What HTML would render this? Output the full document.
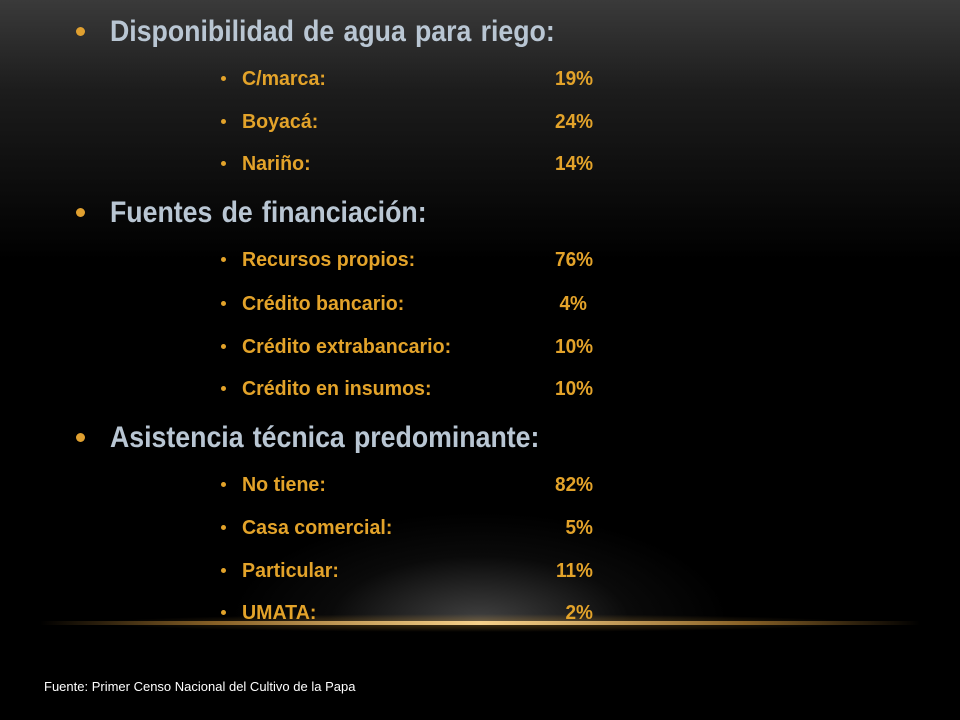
<!DOCTYPE html>
<html><head><meta charset="utf-8"><style>
html,body{margin:0;padding:0}
body{width:960px;height:720px;position:relative;overflow:hidden;background:#000;font-family:"Liberation Sans",Arial,sans-serif}
.bgtop{position:absolute;left:0;top:0;width:960px;height:260px;background:linear-gradient(to bottom,#3a3a3a 0%,#1c1c1c 35%,#000 100%)}
.glow{position:absolute;left:230px;top:422px;width:500px;height:200px;background:radial-gradient(ellipse 50% 55% at 50% 100%,rgba(110,110,110,0.6),rgba(40,40,40,0.25) 60%,rgba(0,0,0,0) 100%)}
.line{position:absolute;left:40px;top:621px;width:880px;height:4px;background:linear-gradient(to right,rgba(200,140,40,0),rgba(210,150,60,0.6) 20%,#f5d08a 50%,rgba(210,150,60,0.6) 80%,rgba(200,140,40,0))}
.lineglow{position:absolute;left:100px;top:614px;width:760px;height:18px;background:radial-gradient(ellipse 50% 50% at 50% 50%,rgba(220,160,60,0.35),rgba(0,0,0,0))}
.h{position:absolute;left:110px;font-size:30px;font-weight:bold;color:#b9c6d3;transform:scaleX(0.89);transform-origin:left center;white-space:nowrap;line-height:1;word-spacing:2px}
.hb{position:absolute;left:76px;width:9px;height:9px;border-radius:50%;background:#e0a030}
.s{position:absolute;left:242px;font-size:20px;font-weight:bold;color:#e3a32a;transform:scaleX(0.98);transform-origin:left center;white-space:nowrap;line-height:1}
.sb{position:absolute;left:221px;width:5px;height:5px;border-radius:50%;background:#e3a32a}
.v{position:absolute;right:367px;font-size:20px;font-weight:bold;color:#e3a32a;transform:scaleX(0.95);transform-origin:right center;white-space:nowrap;line-height:1}
.foot{position:absolute;left:44px;top:680px;font-size:13px;color:#fff;transform:scaleX(1.0);transform-origin:left center;white-space:nowrap;line-height:1}
</style></head><body>
<div class="bgtop"></div>
<div class="glow"></div>
<div class="lineglow"></div>
<div class="line"></div>

<div class="hb" style="top:27px"></div>
<div class="h" style="top:17px">Disponibilidad de agua para riego:</div>
<div class="sb" style="top:76px"></div><div class="s" style="top:69px">C/marca:</div><div class="v" style="top:69px">19%</div>
<div class="sb" style="top:119px"></div><div class="s" style="top:112px">Boyacá:</div><div class="v" style="top:112px">24%</div>
<div class="sb" style="top:161px"></div><div class="s" style="top:154px">Nariño:</div><div class="v" style="top:154px">14%</div>

<div class="hb" style="top:208px"></div>
<div class="h" style="top:198px">Fuentes de financiación:</div>
<div class="sb" style="top:257px"></div><div class="s" style="top:250px">Recursos propios:</div><div class="v" style="top:250px">76%</div>
<div class="sb" style="top:301px"></div><div class="s" style="top:294px">Crédito bancario:</div><div class="v" style="top:294px;right:373px">4%</div>
<div class="sb" style="top:344px"></div><div class="s" style="top:337px">Crédito extrabancario:</div><div class="v" style="top:337px">10%</div>
<div class="sb" style="top:386px"></div><div class="s" style="top:379px">Crédito en insumos:</div><div class="v" style="top:379px">10%</div>

<div class="hb" style="top:433px"></div>
<div class="h" style="top:423px">Asistencia técnica predominante:</div>
<div class="sb" style="top:482px"></div><div class="s" style="top:475px">No tiene:</div><div class="v" style="top:475px">82%</div>
<div class="sb" style="top:525px"></div><div class="s" style="top:518px">Casa comercial:</div><div class="v" style="top:518px">5%</div>
<div class="sb" style="top:568px"></div><div class="s" style="top:561px">Particular:</div><div class="v" style="top:561px">11%</div>
<div class="sb" style="top:610px"></div><div class="s" style="top:603px">UMATA:</div><div class="v" style="top:603px">2%</div>

<div class="foot">Fuente: Primer Censo Nacional del Cultivo de la Papa</div>
</body></html>
